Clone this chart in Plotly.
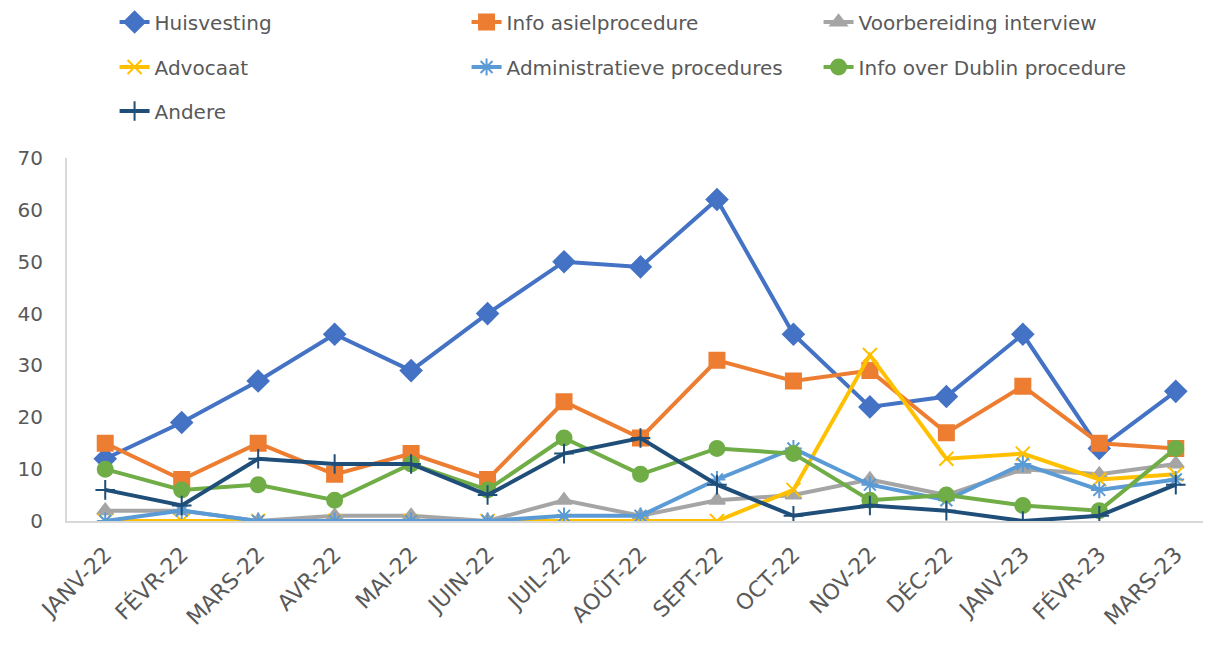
import plotly.graph_objects as go

months = ["JANV-22", "FÉVR-22", "MARS-22", "AVR-22", "MAI-22", "JUIN-22", "JUIL-22", "AOÛT-22",
          "SEPT-22", "OCT-22", "NOV-22", "DÉC-22", "JANV-23", "FÉVR-23", "MARS-23"]

huisvesting = [12, 19, 27, 36, 29, 40, 50, 49, 62, 36, 22, 24, 36, 14, 25]
info_asiel = [15, 8, 15, 9, 13, 8, 23, 16, 31, 27, 29, 17, 26, 15, 14]
voorbereiding = [2, 2, 0, 1, 1, 0, 4, 1, 4, 5, 8, 5, 10, 9, 11]
advocaat = [0, 0, 0, 0, 0, 0, 0, 0, 0, 6, 32, 12, 13, 8, 9]
administratief = [0, 2, 0, 0, 0, 0, 1, 1, 8, 14, 7, 4, 11, 6, 8]
dublin = [10, 6, 7, 4, 11, 6, 16, 9, 14, 13, 4, 5, 3, 2, 14]
andere = [6, 3, 12, 11, 11, 5, 13, 16, 7, 1, 3, 2, 0, 1, 7]

FONT = "DejaVu Sans"
GREY = "#595959"

# name, values, colour, marker symbol, marker size, legend
series = [
    ("Huisvesting", huisvesting, "#4472C4", "diamond", 16, "legend"),
    ("Info asielprocedure", info_asiel, "#ED7D31", "square", 15, "legend"),
    ("Voorbereiding interview", voorbereiding, "#A5A5A5", "triangle-up", 14, "legend"),
    ("Advocaat", advocaat, "#FFC000", "x-thin-open", 14, "legend2"),
    ("Administratieve procedures", administratief, "#5B9BD5", "asterisk-open", 14, "legend2"),
    ("Info over Dublin procedure", dublin, "#70AD47", "circle", 15, "legend2"),
    ("Andere", andere, "#1F4E79", "cross-thin-open", 14, "legend3"),
]

fig = go.Figure()
for name, vals, col, sym, size, leg in series:
    fig.add_trace(go.Scatter(
        x=months, y=vals, name=name, mode="lines+markers",
        line=dict(color=col, width=4),
        marker=dict(symbol=sym, size=size, color=col, line=dict(color=col, width=2)),
        legend=leg,
    ))

# the page has an 8px body margin, so screen positions are offset by 8
def legend_row(y):
    return dict(orientation="h", xref="container", yref="container", x=0.088, y=1 - (y - 8) / 656,
                xanchor="left", yanchor="middle", entrywidth=307, entrywidthmode="pixels",
                font=dict(family=FONT, size=20, color=GREY), bgcolor="rgba(0,0,0,0)",
                traceorder="normal", itemwidth=30)

fig.update_layout(
    width=1211, height=656,
    paper_bgcolor="white", plot_bgcolor="white",
    margin=dict(l=59, r=5, t=150, b=143),
    font=dict(family=FONT, color=GREY),
    showlegend=True,
    legend=legend_row(22),
    legend2=legend_row(67),
    legend3=legend_row(111),
)
fig.update_xaxes(type="category", range=[-0.5, 14.5], showgrid=False, showline=True,
                 linecolor="#D9D9D9", linewidth=2, ticks="", tickangle=-45,
                 ticklabelstandoff=10, tickfont=dict(family=FONT, size=22, color=GREY))
fig.update_yaxes(range=[0, 70], dtick=10, showgrid=False, showline=True,
                 linecolor="#D9D9D9", linewidth=2, zeroline=False, ticks="",
                 ticklabelstandoff=18, tickfont=dict(family=FONT, size=20, color=GREY))

fig.write_html("out.html")
